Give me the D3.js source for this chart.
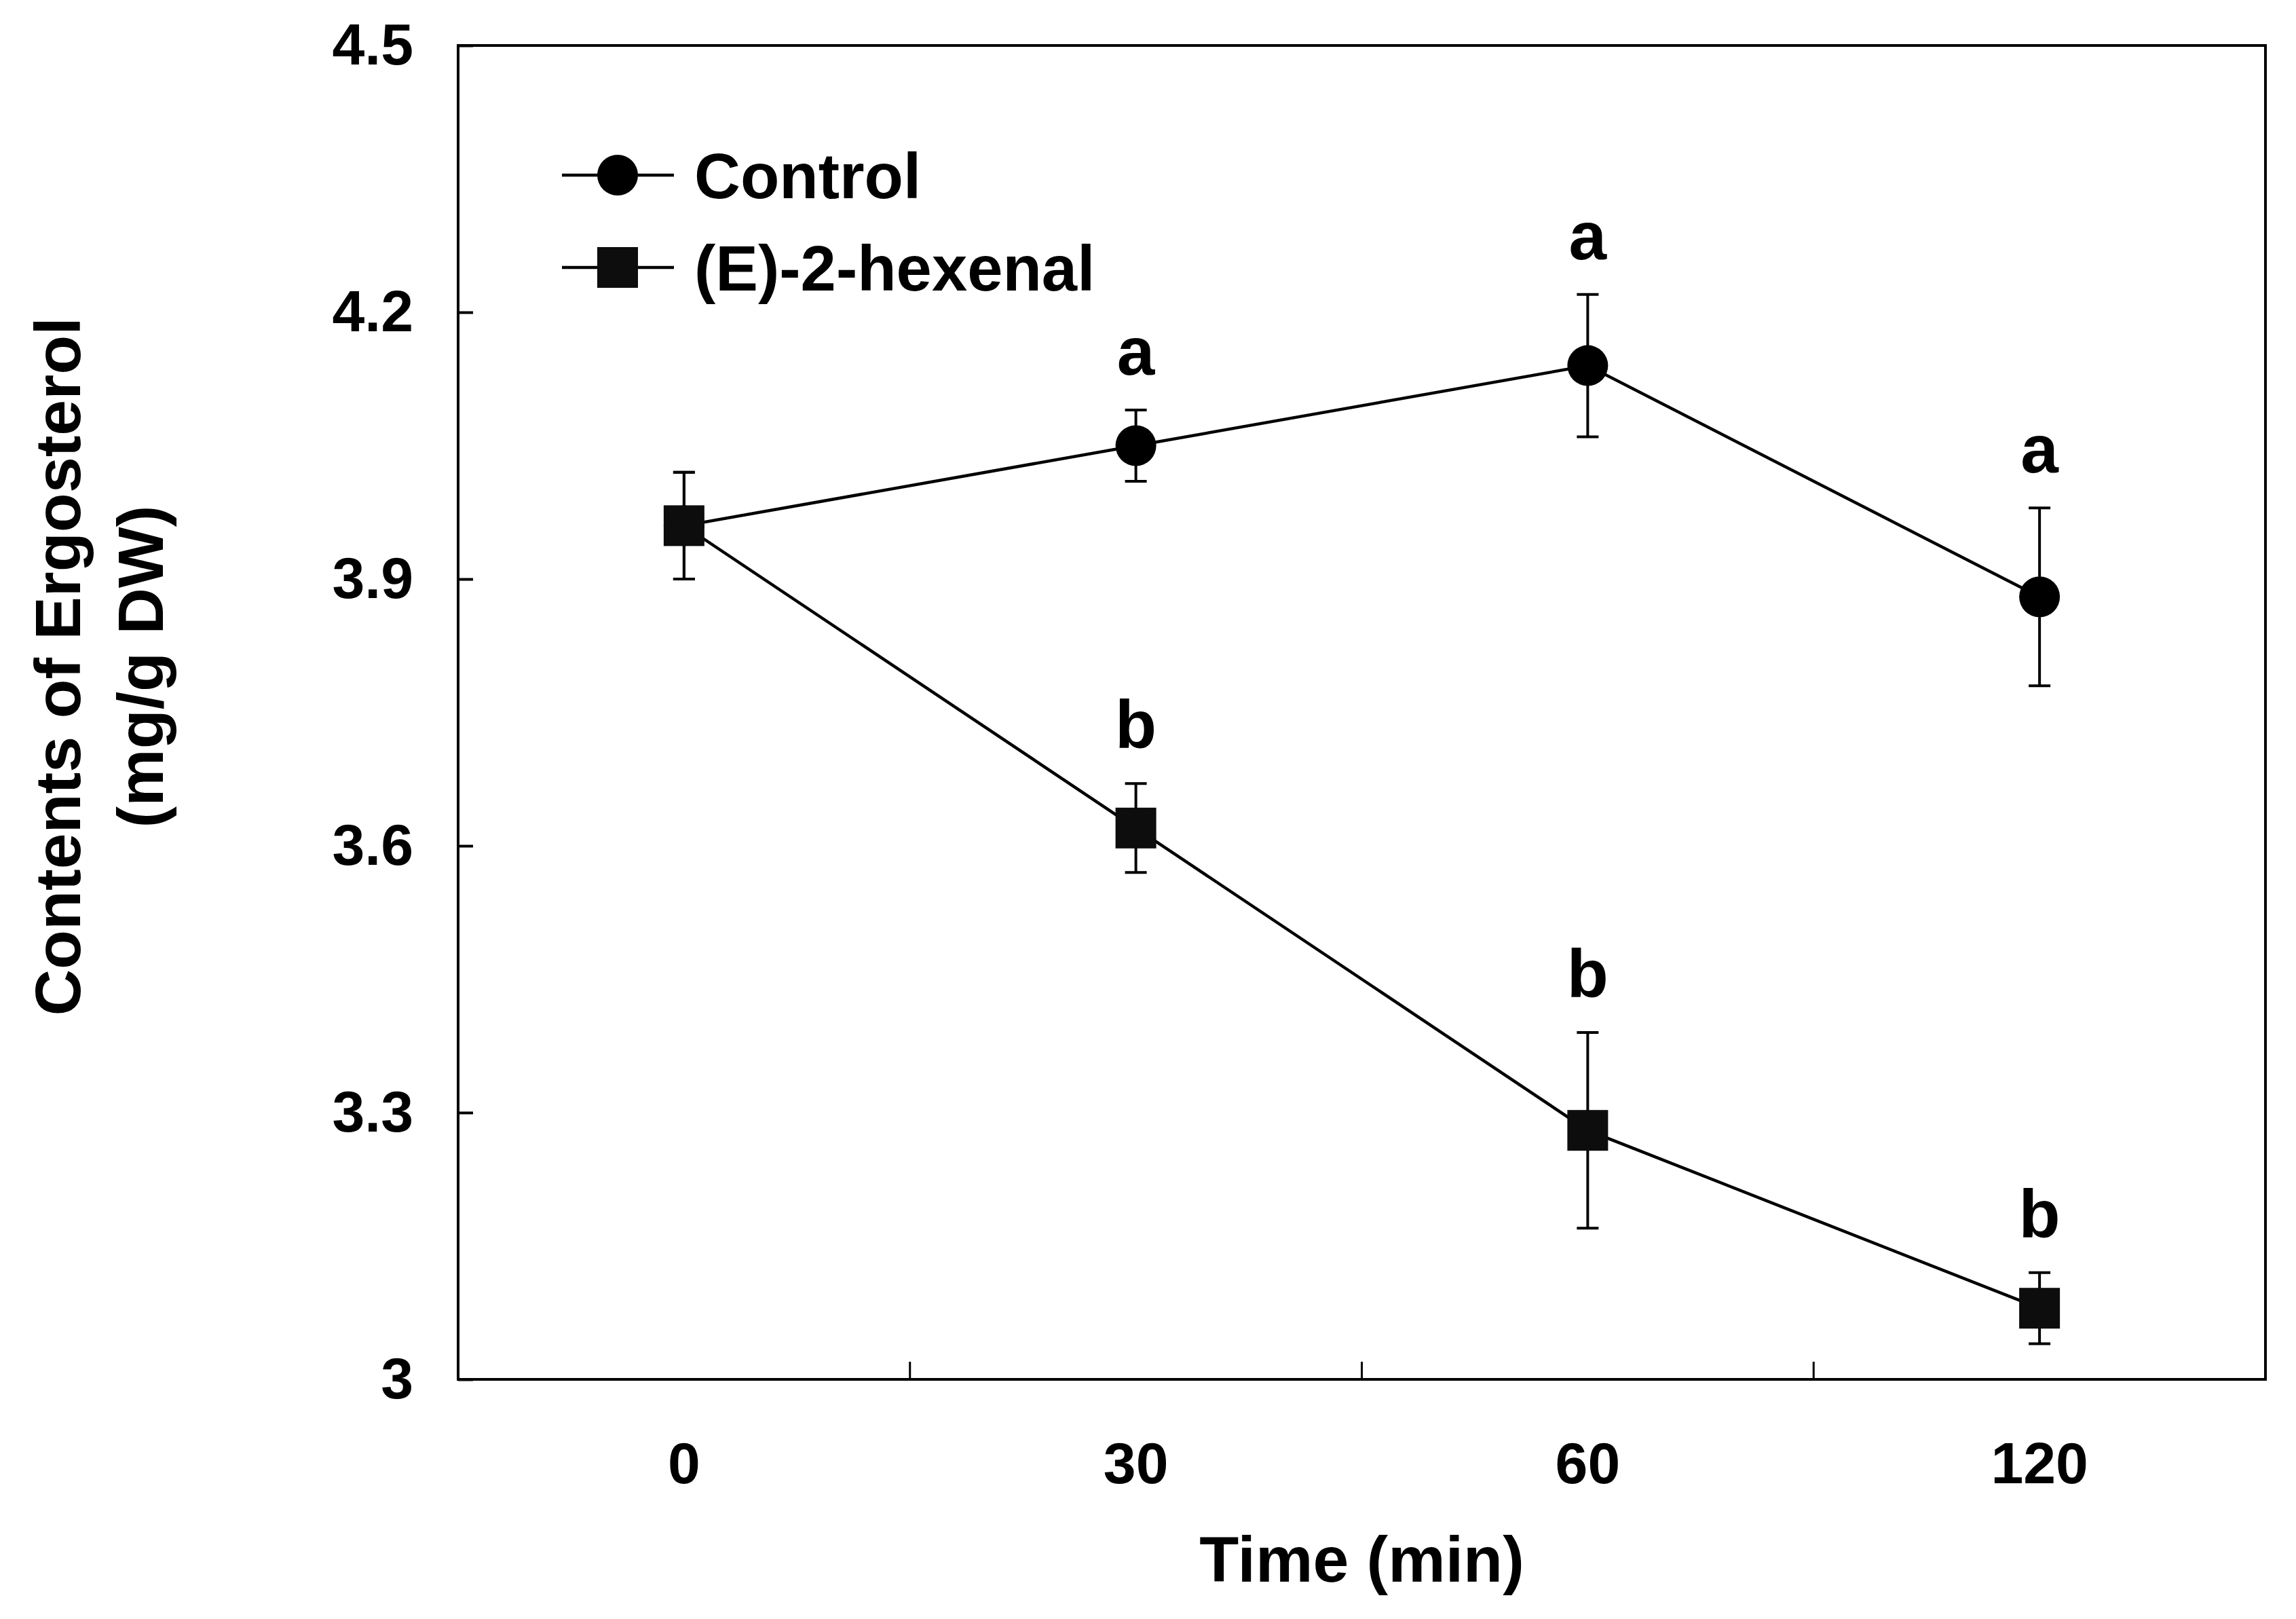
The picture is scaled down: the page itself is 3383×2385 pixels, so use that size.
<!DOCTYPE html>
<html>
<head>
<meta charset="utf-8">
<script src="https://d3js.org/d3.v7.min.js"></script>
<style>
  html, body { margin: 0; padding: 0; background: #fff; }
  svg { display: block; font-family: "Liberation Sans", Arial, sans-serif; font-weight: bold; }
</style>
</head>
<body>
<script>
// data
const times = ["0", "30", "60", "120"];
const controlMean = [3.96, 4.05, 4.14, 3.88];
const controlErr = [0.06, 0.04, 0.08, 0.10];
const hexenalMean = [3.96, 3.62, 3.28, 3.08];
const hexenalErr = [0.06, 0.05, 0.11, 0.04];
const controlLetters = ["", "a", "a", "a"];
const hexenalLetters = ["", "b", "b", "b"];
const yTicks = [3, 3.3, 3.6, 3.9, 4.2, 4.5];
const seriesNames = ["Control", "(E)-2-hexenal"];

const W = 3383, H = 2385;
const plotLeft = 675, plotRight = 3338, plotTop = 67, plotBottom = 2032;

const svg = d3.select("body").append("svg")
    .attr("width", W)
    .attr("height", H);

const x = d3.scaleBand().domain(times).range([plotLeft, plotRight]).padding(0);
const y = d3.scaleLinear().domain([3, 4.5]).range([plotBottom, plotTop]);
const cx = d => x(d) + x.bandwidth() / 2;

// frame
svg.append("rect")
    .attr("x", plotLeft).attr("y", plotTop)
    .attr("width", plotRight - plotLeft).attr("height", plotBottom - plotTop)
    .attr("fill", "none").attr("stroke", "#000").attr("stroke-width", 4);

// y axis, ticks pointing inward
const yAxis = svg.append("g")
    .attr("transform", `translate(${plotLeft},0)`)
    .call(d3.axisLeft(y).tickValues(yTicks).tickSizeInner(-22).tickSizeOuter(0)
        .tickPadding(66).tickFormat(d3.format("~g")));
yAxis.select(".domain").remove();
yAxis.selectAll("line").attr("stroke", "#000").attr("stroke-width", 4);
yAxis.selectAll("text").attr("font-size", 86).attr("fill", "#000")
    .attr("font-family", "Liberation Sans, Arial, sans-serif").attr("font-weight", "bold");

// x axis labels at band centres
const xAxis = svg.append("g")
    .attr("transform", `translate(0,${plotBottom})`)
    .call(d3.axisBottom(x).tickSize(0).tickPadding(92));
xAxis.select(".domain").remove();
xAxis.selectAll("text").attr("font-size", 86).attr("fill", "#000")
    .attr("font-family", "Liberation Sans, Arial, sans-serif").attr("font-weight", "bold");

// inner x ticks at band boundaries
svg.append("g").selectAll("line")
    .data(times.slice(1))
    .join("line")
    .attr("x1", d => x(d)).attr("x2", d => x(d))
    .attr("y1", plotBottom).attr("y2", plotBottom - 26)
    .attr("stroke", "#000").attr("stroke-width", 3);

// axis titles
svg.append("text")
    .attr("x", (plotLeft + plotRight) / 2).attr("y", 2330)
    .attr("text-anchor", "middle").attr("font-size", 95)
    .text("Time (min)");

const yTitle = svg.append("text")
    .attr("transform", "translate(118,982) rotate(-90)")
    .attr("text-anchor", "middle").attr("font-size", 95);
yTitle.append("tspan").attr("x", 0).attr("y", 0).text("Contents of Ergosterol");
yTitle.append("tspan").attr("x", 0).attr("y", 122).text("(mg/g DW)");

const line = d3.line().x((d, i) => cx(times[i])).y(d => y(d));

function drawSeries(means, errs, letters, shape) {
    const g = svg.append("g");
    g.append("path")
        .attr("d", line(means))
        .attr("fill", "none").attr("stroke", "#000").attr("stroke-width", 4.5);
    const pts = means.map((m, i) => ({ t: times[i], m, e: errs[i], l: letters[i] }));
    const eb = g.selectAll("g.eb").data(pts).join("g").attr("class", "eb");
    eb.append("line")
        .attr("x1", d => cx(d.t)).attr("x2", d => cx(d.t))
        .attr("y1", d => y(d.m + d.e)).attr("y2", d => y(d.m - d.e))
        .attr("stroke", "#000").attr("stroke-width", 4);
    eb.append("line")
        .attr("x1", d => cx(d.t) - 16).attr("x2", d => cx(d.t) + 16)
        .attr("y1", d => y(d.m + d.e)).attr("y2", d => y(d.m + d.e))
        .attr("stroke", "#000").attr("stroke-width", 4);
    eb.append("line")
        .attr("x1", d => cx(d.t) - 16).attr("x2", d => cx(d.t) + 16)
        .attr("y1", d => y(d.m - d.e)).attr("y2", d => y(d.m - d.e))
        .attr("stroke", "#000").attr("stroke-width", 4);
    if (shape === "circle") {
        g.selectAll("circle").data(pts).join("circle")
            .attr("cx", d => cx(d.t)).attr("cy", d => y(d.m)).attr("r", 30)
            .attr("fill", "#000");
    } else {
        g.selectAll("rect").data(pts).join("rect")
            .attr("x", d => cx(d.t) - 30).attr("y", d => y(d.m) - 30)
            .attr("width", 60).attr("height", 60)
            .attr("fill", "#0d0d0d");
    }
    g.selectAll("text").data(pts.filter(d => d.l)).join("text")
        .attr("x", d => cx(d.t)).attr("y", d => y(d.m + d.e) - 52)
        .attr("text-anchor", "middle").attr("font-size", 100)
        .text(d => d.l);
}

drawSeries(controlMean, controlErr, controlLetters, "circle");
drawSeries(hexenalMean, hexenalErr, hexenalLetters, "square");

// legend
const legend = svg.append("g");
const legendY = [258, 394];
seriesNames.forEach((name, i) => {
    const ly = legendY[i];
    legend.append("line")
        .attr("x1", 828).attr("x2", 993).attr("y1", ly).attr("y2", ly)
        .attr("stroke", "#000").attr("stroke-width", 4.5);
    if (i === 0) {
        legend.append("circle").attr("cx", 910).attr("cy", ly).attr("r", 30).attr("fill", "#000");
    } else {
        legend.append("rect").attr("x", 880).attr("y", ly - 30)
            .attr("width", 60).attr("height", 60).attr("fill", "#0d0d0d");
    }
    legend.append("text")
        .attr("x", 1023).attr("y", ly + 34)
        .attr("font-size", 94)
        .text(name);
});
</script>
</body>
</html>
